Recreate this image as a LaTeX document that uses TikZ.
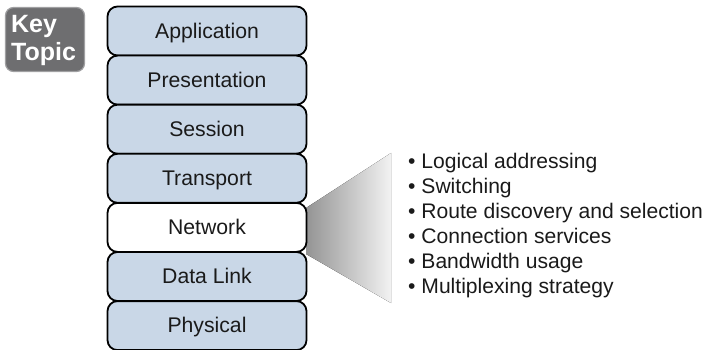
\documentclass[tikz,border=0pt]{standalone}
\usepackage{fontspec}
\setmainfont{Liberation Sans}
\definecolor{layerfill}{HTML}{C9D7E7}
\definecolor{badgefill}{HTML}{6E6E70}
\definecolor{badgeline}{HTML}{A0A0A2}
\definecolor{txt}{HTML}{1A1A1A}
\tikzset{
  layer/.style={draw=black, line width=1.8pt, rounded corners=10pt, fill=layerfill,
    minimum width=199pt, minimum height=49pt, inner sep=0pt,
    font=\fontsize{21.2}{25}\selectfont, text=txt, text height=17.5pt, text depth=3pt},
  bullet/.style={anchor=base west, inner sep=0pt, font=\fontsize{21.1}{25}\selectfont, text=txt},
  badge/.style={draw=badgeline, line width=1.2pt, fill=badgefill, rounded corners=8pt,
    minimum width=79pt, minimum height=64pt, inner sep=0pt},
  badgetext/.style={align=left, inner sep=0pt, text=white,
    font=\fontsize{25}{28}\selectfont\bfseries}
}
\begin{document}
\begin{tikzpicture}[x=1pt,y=-1pt]
\useasboundingbox (0,0) rectangle (712,350);
% Key Topic badge
\node[badge] (badge) at (45,39.5) {};
\node[badgetext, anchor=west] (keytopic) at (11,40) {Key\\Topic};
% wedge
\coordinate (wt) at (306,208);
\coordinate (wb) at (306,254);
\coordinate (wr1) at (391,153);
\coordinate (wr2) at (391,303);
\fill[left color=black!42, right color=black!5] (wt) -- (wr1) -- (wr2) -- (wb) -- cycle;
% layers
\node[layer] (app) at (207,31) {Application};
\node[layer] (pres) at (207,80.1) {Presentation};
\node[layer] (sess) at (207,129.2) {Session};
\node[layer] (trans) at (207,178.3) {Transport};
\node[layer, fill=white] (net) at (207,227.4) {Network};
\node[layer] (dl) at (207,276.5) {Data Link};
\node[layer] (phys) at (207,325.6) {Physical};
% bullets
\node[bullet] (b1) at (408,168) {• Logical addressing};
\node[bullet] (b2) at (408,193) {• Switching};
\node[bullet] (b3) at (408,218) {• Route discovery and selection};
\node[bullet] (b4) at (408,243) {• Connection services};
\node[bullet] (b5) at (408,268) {• Bandwidth usage};
\node[bullet] (b6) at (408,293) {• Multiplexing strategy};
\end{tikzpicture}
\end{document}
